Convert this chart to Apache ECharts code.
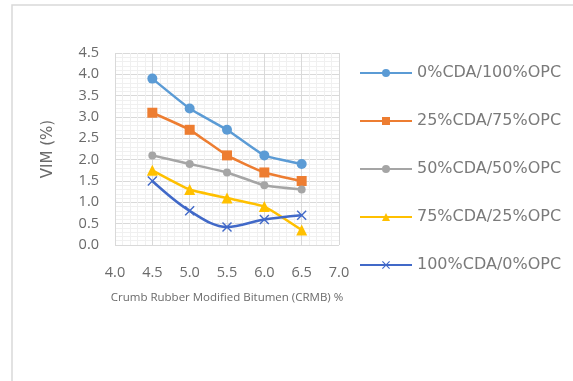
<!DOCTYPE html>
<html><head><meta charset="utf-8">
<script src="https://cdn.jsdelivr.net/npm/echarts@6/dist/echarts.min.js"></script>
<style>html,body{margin:0;padding:0;background:#fff}#c{width:573px;height:381px}</style>
</head><body><div id="c"></div>
<script>
const xValues = [4.5, 5.0, 5.5, 6.0, 6.5];
const seriesNames = ['0%CDA/100%OPC','25%CDA/75%OPC','50%CDA/50%OPC','75%CDA/25%OPC','100%CDA/0%OPC'];
const s0 = [3.9, 3.2, 2.7, 2.1, 1.9];
const s25 = [3.1, 2.7, 2.1, 1.7, 1.5];
const s50 = [2.1, 1.9, 1.7, 1.4, 1.3];
const s75 = [1.75, 1.3, 1.1, 0.9, 0.35];
const s100 = [1.5, 0.8, 0.42, 0.6, 0.7];
const xTitle = 'Crumb Rubber Modified Bitumen (CRMB) %';
const yTitle = 'VIM (%)';

const colors = ['#5B9BD5','#ED7D31','#A5A5A5','#FFC000','#4169C8'];
const symbols = ['circle','rect','circle','triangle','path://M1,0 L5,4 L9,0 L10,1 L6,5 L10,9 L9,10 L5,6 L1,10 L0,9 L4,5 L0,1 Z'];
const sizes = [10, 10, 8, 11, 10];
const allData = [s0, s25, s50, s75, s100];
const txt = '#6a6a6a';
const font = 'Open Sans';

const chart = echarts.init(document.getElementById('c'), null, {renderer:'canvas'});
chart.setOption({
  animation:false,
  color: colors,
  textStyle:{fontFamily:font},
  graphic:[{type:'rect', shape:{x:12,y:5,width:570,height:380}, style:{fill:'none', stroke:'#d9d9d9', lineWidth:1.5}}],
  grid:{left:115, right:234, top:53, bottom:136},
  xAxis:{type:'value', min:4, max:7, interval:0.5,
    name:xTitle, nameLocation:'middle', nameGap:47,
    nameTextStyle:{color:txt, fontSize:11.5, fontFamily:font},
    axisLine:{show:false}, axisTick:{show:false},
    axisLabel:{color:txt, fontSize:14.5, margin:20, formatter:v=>v.toFixed(1)},
    splitLine:{show:true, lineStyle:{color:'#d9d9d9'}},
    minorTick:{show:false, splitNumber:5},
    minorSplitLine:{show:true, lineStyle:{color:'#f0f0f0'}}},
  yAxis:{type:'value', min:0, max:4.5, interval:0.5,
    name:yTitle, nameLocation:'middle', nameGap:59, nameRotate:90,
    nameTextStyle:{color:txt, fontSize:15, fontFamily:'DejaVu Sans'},
    axisLine:{show:false}, axisTick:{show:false},
    axisLabel:{color:txt, fontSize:14.5, margin:16, formatter:v=>v.toFixed(1)},
    splitLine:{show:true, lineStyle:{color:'#d9d9d9'}},
    minorTick:{show:false, splitNumber:5},
    minorSplitLine:{show:true, lineStyle:{color:'#f0f0f0'}}},
  legend:{orient:'vertical', left:354, top:60, itemWidth:52, itemHeight:10, itemGap:32,
    textStyle:{color:'#7a7a7a', fontSize:16, fontFamily:'DejaVu Sans'},
    data:seriesNames},
  series: seriesNames.map((n,i)=>({
    name:n, type:'line', smooth: i===4 ? 0.35 : 0.15,
    data: xValues.map((x,j)=>[x, allData[i][j]]),
    symbol:symbols[i], symbolSize:sizes[i],
    lineStyle:{width:2.5, color:colors[i]},
    itemStyle:{color:colors[i]}
  }))
});
</script></body></html>
